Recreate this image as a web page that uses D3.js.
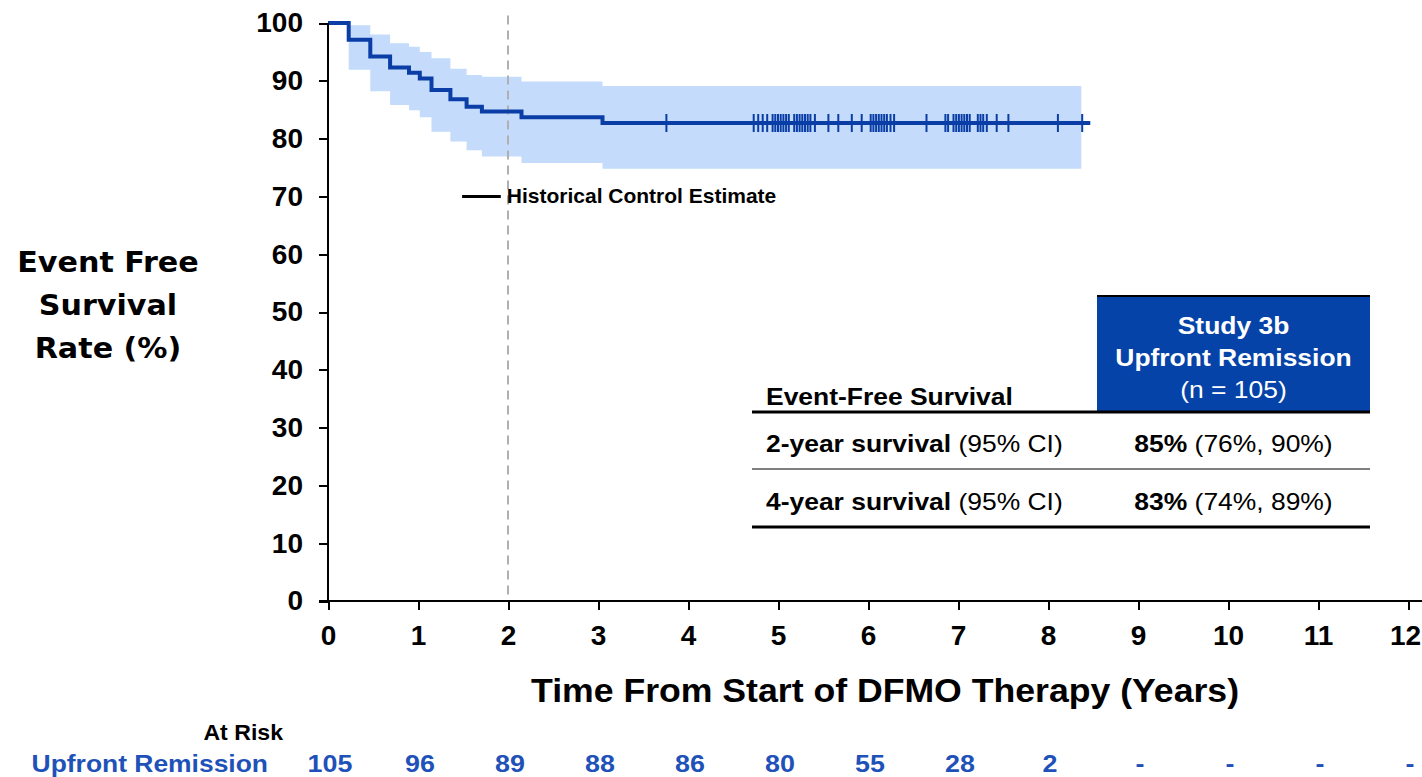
<!DOCTYPE html>
<html lang="en">
<head>
  <meta charset="utf-8">
  <title>Event Free Survival</title>
  <script type="text/javascript" src="https://cdn.jsdelivr.net/npm/d3@7"></script>
  <style>
    body { margin: 0; background: #fff; }
    .axis path, .axis line { stroke: #000; stroke-width: 2; shape-rendering: crispEdges; }
    .axis text { font-family: "Liberation Sans", Arial, sans-serif; font-weight: bold; font-size: 28px; fill: #000; }
    .km-line { fill: none; stroke: #0a3ea6; stroke-width: 4; }
    .km-band { fill: #c4dbfb; stroke: none; }
    .censor { stroke: #0a3ea6; stroke-width: 2; }
  </style>
</head>
<body>
  <script type="text/javascript">

    var w = 1422;
    var h = 777;

    // Kaplan-Meier steps (time in years, survival %)
    var stepTimes = [0, 0.23, 0.47, 0.69, 0.90, 1.02, 1.15, 1.36, 1.54, 1.71, 2.15, 3.05];
    var survival = [100, 97.1, 94.2, 92.3, 91.4, 90.4, 88.4, 86.8, 85.5, 84.7, 83.7, 82.7];
    var ciUpper = [100, 99.6, 98.0, 96.5, 95.9, 95.0, 93.9, 92.1, 91.0, 90.7, 89.9, 89.1];
    var ciLower = [100, 91.9, 88.2, 85.8, 84.9, 83.7, 81.2, 79.5, 78.0, 76.9, 75.8, 74.8];
    var lineEnd = 8.47;
    var bandEnd = 8.37;

    // censored observations (years)
    var censorTimes = [3.76, 4.73, 4.78, 4.83, 4.88, 4.94, 4.97, 5.00, 5.03, 5.06, 5.09, 5.12,
      5.18, 5.21, 5.24, 5.27, 5.30, 5.33, 5.36, 5.41, 5.56, 5.67, 5.82, 5.93,
      6.03, 6.06, 6.09, 6.12, 6.15, 6.18, 6.21, 6.25, 6.29, 6.65, 6.86, 6.89,
      6.95, 6.98, 7.01, 7.04, 7.07, 7.10, 7.13, 7.22, 7.25, 7.28, 7.32, 7.43,
      7.56, 8.11, 8.38];

    var xTicks = [0, 1, 2, 3, 4, 5, 6, 7, 8, 9, 10, 11, 12];
    var yTicks = [0, 10, 20, 30, 40, 50, 60, 70, 80, 90, 100];
    var atRisk = ["105", "96", "89", "88", "86", "80", "55", "28", "2", "-", "-", "-", "-"];

    var histControl = { from: 1.49, to: 1.92, value: 70, label: "Historical Control Estimate" };
    var landmark = 2;

    var tableHeader = ["Study 3b", "Upfront Remission", "(n = 105)"];
    var tableRows = [
      { bold: "2-year survival", plain: " (95% CI)", est: "85%", ci: " (76%, 90%)" },
      { bold: "4-year survival", plain: " (95% CI)", est: "83%", ci: " (74%, 89%)" }
    ];

    var xScale = d3.scaleLinear().domain([0, 12]).range([328, 1408]);
    var yScale = d3.scaleLinear().domain([0, 100]).range([601, 23]);

    var svg = d3.select("body")
      .append("svg")
      .attr("width", w)
      .attr("height", h);

    //text helper, sx stretches horizontally like the source slide
    function addText(x, y, parts, size, anchor, fill, sx, family) {
      var t = svg.append("text")
        .attr("transform", "translate(" + x + "," + y + ") scale(" + (sx || 1) + ",1)")
        .attr("text-anchor", anchor || "start")
        .style("font-family", family || "'Liberation Sans', Arial, sans-serif")
        .style("font-size", size + "px")
        .attr("fill", fill || "#000");
      parts.forEach(function (p) {
        t.append("tspan").text(p.t).style("font-weight", p.b ? "bold" : "normal");
      });
      return t;
    }

    // confidence band
    var bandData = stepTimes.map(function (t, i) { return { t: t, lo: ciLower[i], hi: ciUpper[i] }; });
    bandData.push({ t: bandEnd, lo: ciLower[ciLower.length - 1], hi: ciUpper[ciUpper.length - 1] });

    var area = d3.area()
      .curve(d3.curveStepAfter)
      .x(function (d) { return xScale(d.t); })
      .y0(function (d) { return yScale(d.lo); })
      .y1(function (d) { return yScale(d.hi); });

    svg.append("path")
      .datum(bandData)
      .attr("class", "km-band")
      .attr("d", area);

    // landmark dashed line at 2 years
    svg.append("line")
      .attr("x1", xScale(landmark)).attr("x2", xScale(landmark))
      .attr("y1", yScale(101.3)).attr("y2", yScale(0))
      .attr("stroke", "#b0b0b0")
      .attr("stroke-width", 2)
      .attr("stroke-dasharray", "9,6");

    // survival curve
    var lineData = stepTimes.map(function (t, i) { return { t: t, s: survival[i] }; });
    lineData.push({ t: lineEnd, s: survival[survival.length - 1] });

    var line = d3.line()
      .curve(d3.curveStepAfter)
      .x(function (d) { return xScale(d.t); })
      .y(function (d) { return yScale(d.s); });

    svg.append("path")
      .datum(lineData)
      .attr("class", "km-line")
      .attr("d", line);

    // censor marks
    var lastS = survival[survival.length - 1];
    svg.selectAll("line.censor")
      .data(censorTimes)
      .enter()
      .append("line")
      .attr("class", "censor")
      .attr("x1", function (d) { return xScale(d); })
      .attr("x2", function (d) { return xScale(d); })
      .attr("y1", yScale(lastS) - 9)
      .attr("y2", yScale(lastS) + 9);

    // historical control marker
    svg.append("line")
      .attr("x1", xScale(histControl.from)).attr("x2", xScale(histControl.to))
      .attr("y1", yScale(histControl.value)).attr("y2", yScale(histControl.value))
      .attr("stroke", "#000")
      .attr("stroke-width", 3);
    addText(xScale(histControl.to) + 6, yScale(histControl.value) + 7,
      [{ t: histControl.label, b: true }], 20, "start", "#000", 1.05);

    // axes
    var xAxis = d3.axisBottom(xScale).tickValues(xTicks).tickSize(9).tickPadding(15);
    var gx = svg.append("g")
      .attr("class", "axis")
      .attr("transform", "translate(0," + yScale(0) + ")")
      .call(xAxis);
    gx.select(".domain").attr("d", "M" + (xScale(0) - 9) + ",0H" + w);
    gx.selectAll(".tick text").filter(function (d) { return d === 12; }).attr("dx", -3);

    var yAxis = d3.axisLeft(yScale).tickValues(yTicks).tickSize(9).tickPadding(16);
    var gy = svg.append("g")
      .attr("class", "axis")
      .attr("transform", "translate(" + xScale(0) + ",0)")
      .call(yAxis);
    gy.select(".domain").attr("d", "M0," + yScale(100) + "V" + yScale(0));

    // axis titles
    addText(885, 702, [{ t: "Time From Start of DFMO Therapy (Years)", b: true }], 33, "middle", "#000", 1.08);
    ["Event Free", "Survival", "Rate (%)"].forEach(function (s, i) {
      addText(108, 272 + i * 43, [{ t: s, b: true }], 29, "middle", "#000", 1.04, "'DejaVu Sans', Verdana, sans-serif");
    });

    // at risk table
    addText(283, 740, [{ t: "At Risk", b: true }], 22, "end", "#000", 1.05);
    addText(268, 772, [{ t: "Upfront Remission", b: true }], 23, "end", "#1f52b8", 1.15);
    xTicks.forEach(function (t, i) {
      addText(xScale(t) + 2, 772, [{ t: atRisk[i], b: true }], 24, "middle", "#1f52b8", 1.12);
    });

    // summary table
    var tl = 752, tc = 1097, tr = 1370;
    svg.append("rect")
      .attr("x", tc).attr("y", 296)
      .attr("width", tr - tc).attr("height", 115)
      .attr("fill", "#0543a8");
    svg.append("line").attr("x1", tc).attr("x2", tr).attr("y1", 296).attr("y2", 296)
      .attr("stroke", "#000").attr("stroke-width", 2);
    tableHeader.forEach(function (s, i) {
      addText((tc + tr) / 2, 334 + i * 32, [{ t: s, b: i < 2 }], 23, "middle", "#fff", 1.15);
    });
    addText(766, 405, [{ t: "Event-Free Survival", b: true }], 23, "start", "#000", 1.15);

    svg.append("line").attr("x1", tl).attr("x2", tr).attr("y1", 412).attr("y2", 412)
      .attr("stroke", "#000").attr("stroke-width", 3);
    svg.append("line").attr("x1", tl).attr("x2", tr).attr("y1", 469).attr("y2", 469)
      .attr("stroke", "#555").attr("stroke-width", 1.5);
    svg.append("line").attr("x1", tl).attr("x2", tr).attr("y1", 527).attr("y2", 527)
      .attr("stroke", "#000").attr("stroke-width", 3);

    tableRows.forEach(function (r, i) {
      var y = 452 + i * 58;
      addText(766, y, [{ t: r.bold, b: true }, { t: r.plain, b: false }], 23, "start", "#000", 1.15);
      addText((tc + tr) / 2, y, [{ t: r.est, b: true }, { t: r.ci, b: false }], 23, "middle", "#000", 1.15);
    });

  </script>
</body>
</html>
